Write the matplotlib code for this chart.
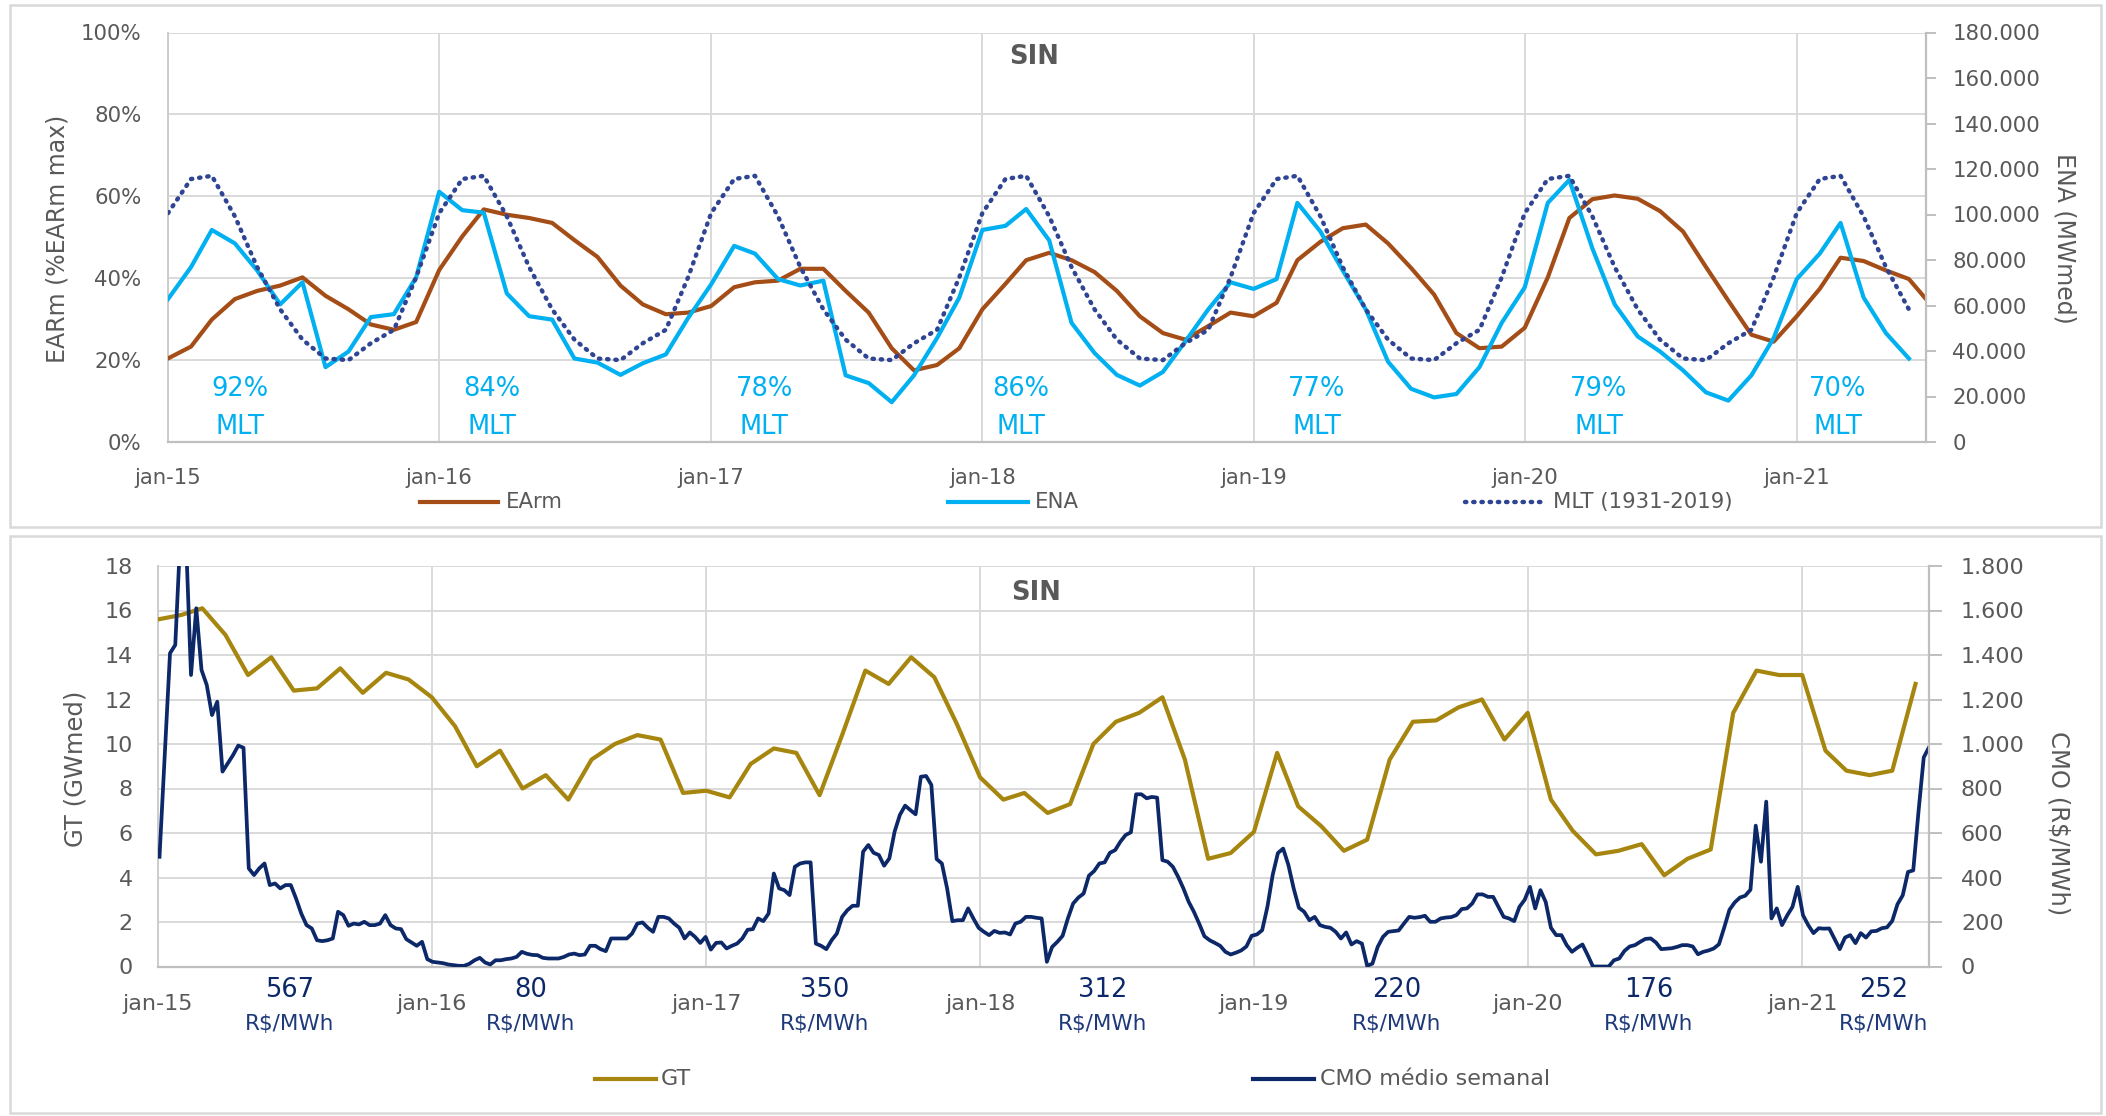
import numpy as np
import pandas as pd
import matplotlib
matplotlib.use('Agg')
import matplotlib.pyplot as plt
from matplotlib.lines import Line2D
from matplotlib.patches import Rectangle

W, H = 2106, 1116
plt.rcParams['font.family'] = ['DejaVu Sans']

# ---------------- data ----------------
# EArm (% EARm max), monthly jan-15 .. jun-21 plus a final partial-month point
earm = [20.4, 23.3, 29.9, 34.9, 36.9, 38.2, 40.2, 35.7, 32.4, 28.7, 27.4, 29.3,
        42.0, 50.2, 56.8, 55.5, 54.7, 53.5, 49.3, 45.2, 38.2, 33.6, 31.2, 31.6,
        33.2, 37.8, 39.0, 39.4, 42.3, 42.3, 36.9, 31.6, 22.9, 17.5, 18.8, 22.9,
        32.4, 38.6, 44.4, 46.2, 44.4, 41.5, 36.9, 30.7, 26.6, 25.0, 28.3, 31.6,
        30.7, 34.0, 44.4, 48.9, 52.2, 53.1, 48.5, 42.5, 36.0, 26.6, 22.9, 23.3,
        27.9, 40.2, 54.7, 59.3, 60.2, 59.4, 56.4, 51.4, 42.7, 34.5, 26.2, 24.5,
        30.7, 37.4, 45.0, 44.2, 41.9, 39.8, 34.9]

# ENA (MWmed), monthly jan-15 .. jun-21
ena = [62800, 76900, 93200, 87300, 75400, 60500, 70200, 32900, 39800, 54900, 56200, 72400,
       110000, 101900, 100800, 65300, 55300, 53800, 36700, 34900, 29500, 34600, 38500, 54500,
       69300, 86200, 82800, 71600, 68800, 70900, 29300, 25900, 17500, 29300, 45700, 63500,
       93200, 95000, 102400, 88600, 52400, 39100, 29500, 24800, 30800, 44100, 58300, 70200,
       67300, 71600, 105100, 92500, 75400, 58300, 35300, 23400, 19600, 21100, 32900, 52400,
       68000, 105100, 115200, 85100, 60500, 46400, 39800, 31500, 21800, 18200, 29300, 45700,
       71600, 82800, 96300, 63500, 47900, 36700]

# MLT (1931-2019), MWmed, monthly jan-15 .. jun-21
mlt = [100600, 115600, 117000, 99200, 76900, 58300, 45000, 36700, 36000, 43400, 49300, 72400,
       100600, 115600, 117000, 99200, 76900, 58300, 45000, 36700, 36000, 43400, 49300, 72400,
       100600, 115600, 117000, 99200, 76900, 58300, 45000, 36700, 36000, 43400, 49300, 72400,
       100600, 115600, 117000, 99200, 76900, 58300, 45000, 36700, 36000, 43400, 49300, 72400,
       100600, 115600, 117000, 99200, 76900, 58300, 45000, 36700, 36000, 43400, 49300, 72400,
       100600, 115600, 117000, 99200, 76900, 58300, 45000, 36700, 36000, 43400, 49300, 72400,
       100600, 115600, 117000, 99200, 76900, 58300]

# GT (GWmed), monthly jan-15 .. jun-21
gt = [15.6, 15.8, 16.1, 14.9, 13.1, 13.9, 12.4, 12.5, 13.4, 12.3, 13.2, 12.9,
      12.1, 10.8, 9.0, 9.7, 8.0, 8.6, 7.5, 9.3, 10.0, 10.4, 10.2, 7.8,
      7.9, 7.6, 9.1, 9.8, 9.6, 7.7, 10.4, 13.3, 12.7, 13.9, 13.0, 10.9,
      8.5, 7.5, 7.8, 6.9, 7.3, 10.0, 11.0, 11.4, 12.1, 9.3, 4.84, 5.1,
      6.05, 9.6, 7.2, 6.3, 5.2, 5.7, 9.3, 11.0, 11.06, 11.65, 12.0, 10.2,
      11.4, 7.5, 6.1, 5.04, 5.2, 5.5, 4.1, 4.84, 5.26, 11.4, 13.3, 13.1,
      13.1, 9.7, 8.8, 8.6, 8.8, 12.7]

# CMO médio semanal (R$/MWh), weekly from first week of jan-15
cmo = [493, 950, 1408, 1445, 1950, 1950, 1310, 1610, 1333, 1265,
       1130, 1190, 876, 913, 950, 993, 983, 441, 411, 441,
       463, 366, 373, 351, 366, 366, 306, 238, 186, 171,
       118, 114, 118, 126, 246, 231, 183, 193, 189, 201,
       186, 186, 193, 231, 186, 171, 168, 123, 108, 93,
       111, 33, 21, 18, 15, 9, 6, 3, 3, 12,
       28, 39, 18, 9, 28, 28, 33, 36, 43, 66,
       57, 52, 51, 39, 36, 36, 36, 43, 54, 58,
       51, 54, 93, 93, 78, 69, 126, 126, 126, 126,
       148, 193, 198, 174, 156, 223, 223, 216, 193, 174,
       126, 153, 133, 106, 133, 76, 106, 108, 81, 93,
       103, 126, 165, 168, 216, 204, 238, 418, 351, 343,
       321, 448, 463, 468, 468, 103, 93, 78, 118, 148,
       223, 253, 273, 273, 516, 546, 511, 501, 453, 486,
       606, 681, 723, 703, 684, 853, 856, 816, 483, 463,
       351, 204, 208, 208, 261, 216, 174, 156, 141, 160,
       151, 153, 144, 193, 201, 223, 223, 219, 216, 21,
       88, 111, 138, 216, 283, 310, 328, 408, 429, 463,
       468, 511, 523, 561, 591, 603, 774, 774, 756, 762,
       759, 478, 471, 448, 403, 351, 291, 246, 193, 136,
       118, 106, 93, 66, 54, 62, 72, 90, 138, 144,
       163, 268, 411, 510, 530, 456, 351, 264, 246, 208,
       223, 186, 178, 174, 156, 126, 153, 99, 114, 103,
       3, 13, 88, 133, 156, 159, 162, 193, 223, 219,
       222, 228, 201, 201, 216, 220, 222, 231, 258, 261,
       283, 324, 324, 313, 313, 268, 223, 216, 204, 268,
       300, 358, 261, 343, 290, 174, 141, 141, 96, 66,
       84, 99, 51, 0, 0, 0, 0, 28, 36, 70,
       90, 96, 111, 124, 126, 108, 78, 80, 82, 88,
       96, 96, 90, 55, 66, 72, 81, 100, 175, 255,
       288, 310, 318, 345, 633, 471, 741, 216, 261, 186,
       230, 268, 358, 231, 186, 150, 172, 170, 171, 125,
       78, 130, 141, 105, 150, 130, 158, 160, 172, 176,
       205, 280, 320, 425, 432, 696, 940, 985]

year_labels = ['jan-15', 'jan-16', 'jan-17', 'jan-18', 'jan-19', 'jan-20', 'jan-21']
mlt_pct_labels = ['92%', '84%', '78%', '86%', '77%', '79%', '70%']
cmo_avg_labels = ['567', '80', '350', '312', '220', '176', '252']
pct_ticks = [0, 20, 40, 60, 80, 100]
ena_ticks = list(range(0, 180001, 20000))
gt_ticks = list(range(0, 19, 2))
cmo_ticks = list(range(0, 1801, 200))

months = pd.date_range('2015-01-01', periods=78, freq='MS')
earm_dates = months.append(pd.DatetimeIndex(['2021-06-24']))
weeks = pd.date_range('2015-01-03', periods=len(cmo), freq='7D')
year_ticks = pd.date_range('2015-01-01', periods=7, freq='YS')

# ---------------- style ----------------
BROWN = '#a44d17'
CYAN = '#00b0f0'
DOTS = '#2f4593'
GOLD = '#a6860f'
NAVY = '#0c2868'
GRID = '#d9d9d9'
AXIS = '#bfbfbf'
TXT = '#595959'
LW = 3.0
DOTSTYLE = (0, (0.3, 1.55))


def fx(px):
    return px / W


def fy(py):
    return 1 - py / H


def thousands(v):
    return '0' if v == 0 else f'{v:,.0f}'.replace(',', '.')


fig = plt.figure(figsize=(W / 100, H / 100), dpi=100)
fig.patch.set_facecolor('white')

# panel frames
for (x0, y0, x1, y1) in [(10, 5, 2101, 527), (10, 536, 2101, 1113)]:
    fig.add_artist(Rectangle((fx(x0), fy(y1)), (x1 - x0) / W, (y1 - y0) / H,
                             transform=fig.transFigure, fill=False,
                             ec=GRID, lw=1.8))


def style_axes(ax, axr, xlim, fs, xpad, ypad, rpad, ticklen):
    ax.set_xlim(*xlim)
    ax.set_xticks(year_ticks)
    ax.set_xticklabels(year_labels)
    ax.grid(True, color=GRID, lw=1.4)
    ax.set_axisbelow(True)
    for s in ['top', 'right']:
        ax.spines[s].set_visible(False)
    ax.spines['left'].set_color('#cccccc')
    ax.spines['left'].set_linewidth(1.4)
    ax.spines['bottom'].set_color(AXIS)
    ax.spines['bottom'].set_linewidth(1.6)
    ax.tick_params(axis='x', length=0, pad=xpad, labelsize=fs, labelcolor=TXT)
    ax.tick_params(axis='y', length=0, pad=ypad, labelsize=fs, labelcolor=TXT)
    for s in ['top', 'left', 'bottom']:
        axr.spines[s].set_visible(False)
    axr.spines['right'].set_color(AXIS)
    axr.spines['right'].set_linewidth(1.6)
    axr.tick_params(axis='y', length=ticklen, width=1.4, color=AXIS, pad=rpad,
                    labelsize=fs, labelcolor=TXT, direction='out')
    axr.patch.set_visible(False)


# ---------------- top panel ----------------
ax1 = fig.add_axes([fx(168), fy(442), (1926 - 168) / W, (442 - 32.5) / H])
ax1r = ax1.twinx()
ax1.plot(earm_dates, earm, color=BROWN, lw=LW, solid_joinstyle='round', zorder=3)
ax1r.plot(months, ena, color=CYAN, lw=LW, solid_joinstyle='round')
ax1r.plot(months, mlt, color=DOTS, lw=3.2, ls=DOTSTYLE, dash_capstyle='round')
ax1.set_ylim(0, 100)
ax1.set_yticks(pct_ticks)
ax1.set_yticklabels([f'{v}%' for v in pct_ticks])
ax1r.set_ylim(0, 180000)
ax1r.set_yticks(ena_ticks)
ax1r.set_yticklabels([thousands(v) for v in ena_ticks])
style_axes(ax1, ax1r, (pd.Timestamp('2015-01-01'), pd.Timestamp('2021-06-24')),
           15.3, 19, 19, 12, 7)

fig.text(fx(57), fy(239), 'EARm (%EARm max)', rotation=90, ha='center', va='center',
         fontsize=17, color=TXT)
fig.text(fx(2065), fy(238), 'ENA (MWmed)', rotation=270, ha='center', va='center',
         fontsize=17, color=TXT)
fig.text(fx(1034), fy(57.5), 'SIN', ha='center', va='center', fontsize=18.5,
         fontweight='bold', color=TXT)

for lab, cx in zip(mlt_pct_labels, [240, 492, 764, 1021, 1317, 1599, 1838]):
    fig.text(fx(cx), fy(389), lab, ha='center', va='center', fontsize=18.5, color=CYAN)
    fig.text(fx(cx), fy(427), 'MLT', ha='center', va='center', fontsize=18.5, color=CYAN)

# top legend
for (x0, x1, xt, col, ls, lw, name) in [
        (420, 498, 506, BROWN, '-', LW, 'EArm'),
        (948, 1028, 1035, CYAN, '-', LW, 'ENA'),
        (1465, 1542, 1553, DOTS, DOTSTYLE, 3.2, 'MLT (1931-2019)')]:
    fig.add_artist(Line2D([fx(x0), fx(x1)], [fy(502), fy(502)], transform=fig.transFigure,
                          color=col, ls=ls, lw=lw, dash_capstyle='round'))
    fig.text(fx(xt), fy(502), name, ha='left', va='center', fontsize=15.3, color=TXT)

# ---------------- bottom panel ----------------
ax2 = fig.add_axes([fx(158), fy(966.5), (1929 - 158) / W, (966.5 - 566) / H])
ax2r = ax2.twinx()
ax2.plot(months, gt, color=GOLD, lw=LW, solid_joinstyle='round', zorder=3)
ax2r.plot(weeks, cmo, color=NAVY, lw=2.7, solid_joinstyle='round')
ax2.set_ylim(0, 18)
ax2.set_yticks(gt_ticks)
ax2.set_yticklabels([str(v) for v in gt_ticks])
ax2r.set_ylim(0, 1800)
ax2r.set_yticks(cmo_ticks)
ax2r.set_yticklabels([thousands(v) for v in cmo_ticks])
style_axes(ax2, ax2r, (pd.Timestamp('2015-01-01'), weeks[-1]),
           16, 20, 18, 14, 9)

fig.text(fx(76), fy(769), 'GT (GWmed)', rotation=90, ha='center', va='center',
         fontsize=17.5, color=TXT)
fig.text(fx(2058), fy(823), 'CMO (R$/MWh)', rotation=270, ha='center', va='center',
         fontsize=17.5, color=TXT)
fig.text(fx(1036), fy(593.5), 'SIN', ha='center', va='center', fontsize=18.5,
         fontweight='bold', color=TXT)

for lab, cx in zip(cmo_avg_labels, [290, 531, 825, 1103, 1397, 1649, 1884]):
    fig.text(fx(cx), fy(990), lab, ha='center', va='center', fontsize=18.5, color=NAVY)
    fig.text(fx(cx), fy(1024), 'R$/MWh', ha='center', va='center', fontsize=15.5,
             color='#1f3a7a')

# bottom legend
for (x0, x1, xt, col, name) in [(595, 656, 661, GOLD, 'GT'),
                                (1253, 1314, 1320, NAVY, 'CMO médio semanal')]:
    fig.add_artist(Line2D([fx(x0), fx(x1)], [fy(1079), fy(1079)], transform=fig.transFigure,
                          color=col, lw=LW))
    fig.text(fx(xt), fy(1079), name, ha='left', va='center', fontsize=16, color=TXT)

fig.savefig('out.png', dpi=100, facecolor='white')
